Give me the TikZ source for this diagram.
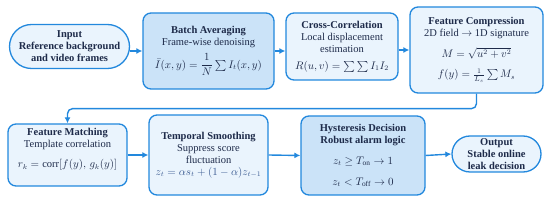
\documentclass[tikz,border=0pt]{standalone}
\usepackage{amsmath}
\usepackage{fontspec}
\setmainfont{Liberation Serif}
\usetikzlibrary{arrows.meta,shapes.misc,calc}
\definecolor{bordc}{HTML}{2288DD}
\definecolor{lightf}{HTML}{EAF4FD}
\definecolor{darkf}{HTML}{CBE3F8}
\definecolor{txtc}{HTML}{1E2B4A}
\definecolor{fmc}{HTML}{3B5B92}
\tikzset{
  box/.style={draw=bordc, line width=1.3pt, rounded corners=8pt, fill=lightf, align=center, text=txtc, inner sep=2pt,
    font=\fontsize{10.5}{12}\selectfont},
  dbox/.style={box, fill=darkf},
  pill/.style={draw=bordc, line width=1.3pt, rounded rectangle, fill=lightf, align=center, text=txtc, inner sep=2pt,
    font=\fontsize{10.5}{12}\selectfont},
  arr/.style={draw=bordc, line width=1.4pt, -{Latex[length=6pt,width=6pt]}},
}
\begin{document}
\begin{tikzpicture}[x=1pt,y=1pt]
\useasboundingbox (0,0) rectangle (550,-200);
\node[pill, minimum width=124pt, minimum height=44pt] (in) at (69.5,-46.5)
  {\textbf{Input}\\\textbf{Reference background}\\\textbf{and video frames}};
\node[dbox, minimum width=131pt, minimum height=76pt] (ba) at (208.5,-51)
  {\textbf{Batch Averaging}\\Frame-wise denoising\\[5pt]$\bar I(x,y)=\dfrac{1}{N}\sum I_t(x,y)$};
\node[box, minimum width=112pt, minimum height=67pt] (cc) at (342,-46.5)
  {\textbf{Cross-Correlation}\\Local displacement\\estimation\\[5pt]$R(u,v)=\sum\sum I_1I_2$};
\node[box, minimum width=133pt, minimum height=86pt] (fc) at (476.5,-50)
  {\textbf{Feature Compression}\\2D field $\rightarrow$ 1D signature\\[8pt]$M=\sqrt{u^2+v^2}$\\[8pt]$f(y)=\frac{1}{L_s}\sum M_s$};
\node[box, minimum width=119pt, minimum height=62pt] (fm) at (67.5,-155)
  {\textbf{Feature Matching}\\Template correlation\\[8pt]$r_k=\mathrm{corr}[f(y),\,g_k(y)]$\\[2pt]};
\node[box, minimum width=119pt, minimum height=80pt] (ts) at (208.5,-155)
  {\textbf{Temporal Smoothing}\\Suppress score\\fluctuation\\\textcolor{fmc}{$z_t=\alpha s_t+(1-\alpha)z_{t-1}$}};
\node[dbox, minimum width=124pt, minimum height=79pt] (hd) at (363,-155.5)
  {\textbf{Hysteresis Decision}\\\textbf{Robust alarm logic}\\[9pt]$z_t\ge T_{\mathrm{on}}\rightarrow 1$\\[9pt]$z_t<T_{\mathrm{off}}\rightarrow 0$};
\node[pill, minimum width=93pt, minimum height=36pt] (out) at (496.5,-154)
  {\textbf{Output}\\\textbf{Stable online}\\\textbf{leak decision}};
\draw[arr] (ba.west -| in.east) -- (ba.west);
\draw[arr] (ba.east) -- (ba.east -| cc.west);
\draw[arr] (fc.west -| cc.east) -- (fc.west);
\draw[arr, rounded corners=5pt] (fc.south) -- ++(0,-15) -| (fm.north);
\draw[arr] (fm.east) -- (ts.west);
\draw[arr] (ts.east) -- (hd.west);
\draw[arr] (hd.east) -- (out.west);
\end{tikzpicture}
\end{document}
